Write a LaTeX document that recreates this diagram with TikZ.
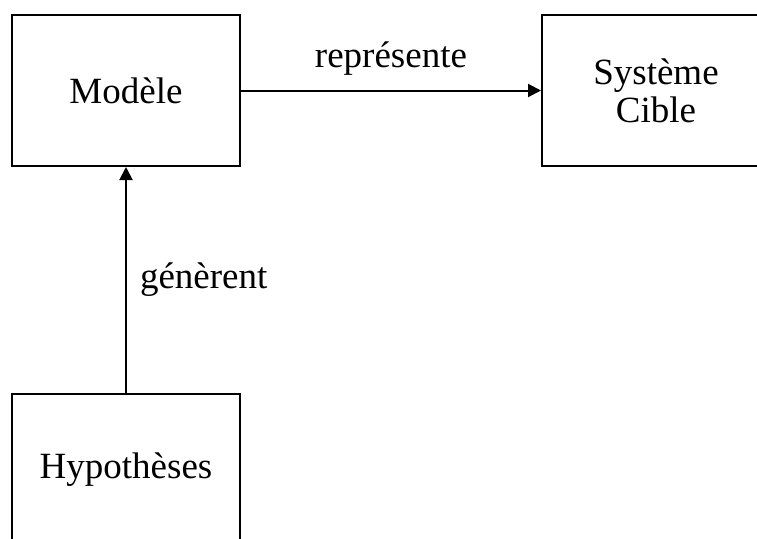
\documentclass[tikz,border=0pt]{standalone}
\usepackage{fontspec}
\setmainfont{Liberation Serif}
\usetikzlibrary{arrows.meta, positioning}

\begin{document}
\begin{tikzpicture}[x=1pt, y=-1pt, >={Triangle[length=13pt,width=13pt]},
    boite/.style={draw, line width=2pt, minimum width=228pt, minimum height=151pt,
        align=center, font=\fontsize{37}{38}\selectfont},
    etiquette/.style={inner sep=0pt, font=\fontsize{37}{38}\selectfont},
    lien/.style={->, line width=2pt}]
\useasboundingbox (0,0) rectangle (757,538);
\clip (0,0) rectangle (757,538);
\node[boite] (modele) at (126,90.5) {Modèle};
\node[boite] (cible) at (656,90.5) {Système\\Cible};
\node[boite] (hypotheses) at (126,469.5) {Hypothèses};
\draw[lien] (modele) -- node[etiquette, above=14pt]{représente} (cible);
\draw[lien] (hypotheses) -- node[etiquette, right=13pt]{génèrent} (modele);
\end{tikzpicture}
\end{document}
